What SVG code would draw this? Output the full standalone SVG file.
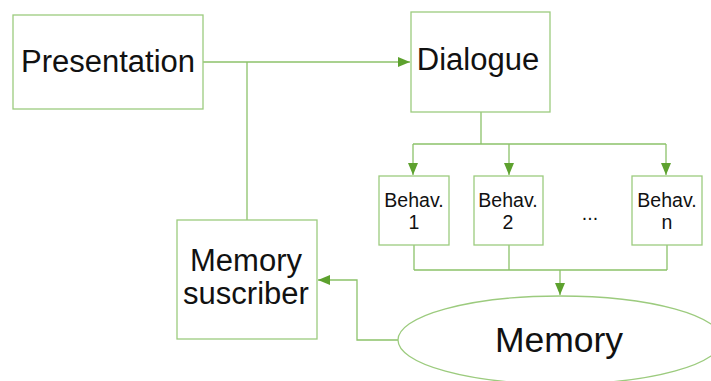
<svg xmlns="http://www.w3.org/2000/svg" width="711" height="381" viewBox="0 0 711 381">
<style>
.box{fill:#fff;stroke:#9ccb7e;stroke-width:1.3}
.ln{fill:none;stroke:#8cc26a;stroke-width:1.3}
.t{font-family:"Liberation Sans",Arial,sans-serif;fill:#111;text-anchor:middle}
</style>
<defs>
<marker id="ah" viewBox="0 0 12 10" refX="12" refY="5" markerWidth="12" markerHeight="10" markerUnits="userSpaceOnUse" orient="auto">
<path d="M0,0 L12,5 L0,10 Z" fill="#5da12e"/>
</marker>
</defs>
<rect width="711" height="381" fill="#fff"/>
<g id="connectors">
<path class="ln" d="M203,62 H410" marker-end="url(#ah)"/>
<path class="ln" d="M247,62 V220"/>
<path class="ln" d="M481,112 V144 M413,144 H666"/>
<path class="ln" d="M413,144 V175" marker-end="url(#ah)"/>
<path class="ln" d="M509,144 V175" marker-end="url(#ah)"/>
<path class="ln" d="M666,144 V175" marker-end="url(#ah)"/>
<path class="ln" d="M414,245 V270 M509,245 V270 M667,245 V270 M414,270 H667"/>
<path class="ln" d="M560,270 V295" marker-end="url(#ah)"/>
<path class="ln" d="M398,340 H357 V280 H318" marker-end="url(#ah)"/>
</g>
<g id="presentation">
<rect class="box" x="13" y="15" width="190" height="94"/>
<text class="t" x="108" y="72" font-size="31">Presentation</text>
</g>
<g id="dialogue">
<rect class="box" x="411" y="12" width="139" height="100"/>
<text class="t" x="478" y="70" font-size="31">Dialogue</text>
</g>
<g id="behav1">
<rect class="box" x="379" y="176" width="70" height="69"/>
<text class="t" x="414" y="207" font-size="19.5">Behav.</text>
<text class="t" x="414" y="229" font-size="19.5">1</text>
</g>
<g id="behav2">
<rect class="box" x="474" y="176" width="69" height="69"/>
<text class="t" x="508" y="207" font-size="19.5">Behav.</text>
<text class="t" x="508" y="229" font-size="19.5">2</text>
</g>
<g id="dots">
<text class="t" x="590" y="220" font-size="19.5">...</text>
</g>
<g id="behavn">
<rect class="box" x="632" y="176" width="70" height="69"/>
<text class="t" x="667" y="207" font-size="19.5">Behav.</text>
<text class="t" x="667" y="229" font-size="19.5">n</text>
</g>
<g id="memory-subscriber">
<rect class="box" x="177" y="220" width="140" height="119"/>
<text class="t" x="246" y="271" font-size="31">Memory</text>
<text class="t" x="246" y="304" font-size="31">suscriber</text>
</g>
<g id="memory">
<ellipse class="box" cx="560" cy="340" rx="162" ry="44"/>
<text class="t" x="559" y="352" font-size="35.5">Memory</text>
</g>
</svg>
